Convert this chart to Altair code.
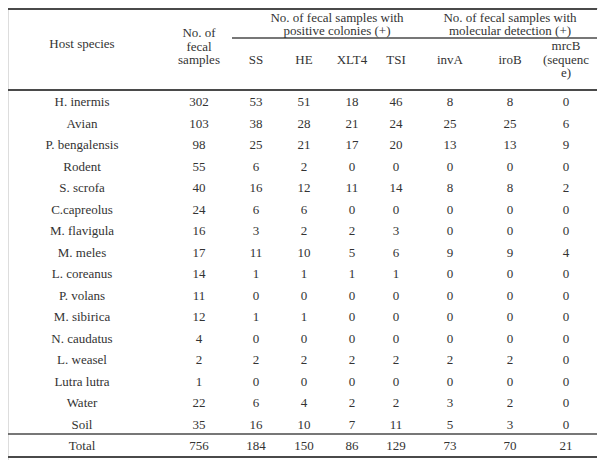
import altair as alt
import pandas as pd

hosts = ["H. inermis", "Avian", "P. bengalensis", "Rodent", "S. scrofa", "C.capreolus",
         "M. flavigula", "M. meles", "L. coreanus", "P. volans", "M. sibirica", "N. caudatus",
         "L. weasel", "Lutra lutra", "Water", "Soil", "Total"]
n_samples = [302, 103, 98, 55, 40, 24, 16, 17, 14, 11, 12, 4, 2, 1, 22, 35, 756]
ss = [53, 38, 25, 6, 16, 6, 3, 11, 1, 0, 1, 0, 2, 0, 6, 16, 184]
he = [51, 28, 21, 2, 12, 6, 2, 10, 1, 0, 1, 0, 2, 0, 4, 10, 150]
xlt4 = [18, 21, 17, 0, 11, 0, 2, 5, 1, 0, 0, 0, 2, 0, 2, 7, 86]
tsi = [46, 24, 20, 0, 14, 0, 3, 6, 1, 0, 0, 0, 2, 0, 2, 11, 129]
inva = [8, 25, 13, 0, 8, 0, 0, 9, 0, 0, 0, 0, 2, 0, 3, 5, 73]
irob = [8, 25, 13, 0, 8, 0, 0, 9, 0, 0, 0, 0, 2, 0, 2, 3, 70]
mrcb = [0, 6, 9, 0, 2, 0, 0, 4, 0, 0, 0, 0, 0, 0, 0, 0, 21]

col_headers = ["Host species", "No. of\nfecal\nsamples", "SS", "HE", "XLT4", "TSI",
               "invA", "iroB", "mrcB\n(sequenc\ne)"]
group_headers = ["No. of fecal samples with\npositive colonies (+)",
                 "No. of fecal samples with\nmolecular detection (+)"]

series = [hosts, n_samples, ss, he, xlt4, tsi, inva, irob, mrcb]

FONT = "Liberation Serif, Times New Roman, serif"
FS = 13
TXT = "#333333"
LINE = "#4a4a4a"

# column centres (layout) and first-line positions of headers
COL_X = [74, 191, 248, 296, 344, 388, 442, 502, 558]
HDR_Y = [36, 25, 52, 52, 52, 52, 52, 52, 38]
GRP_X = [329, 502]

y_scale = alt.Scale(domain=hosts, range=[94, 438], padding=0)

layers = []

def rule(x1, x2, y, w, color=LINE):
    return alt.Chart(pd.DataFrame({"k": [0]})).mark_rule(color=color, strokeWidth=w).encode(
        x=alt.value(x1), x2=alt.value(x2), y=alt.value(y)
    )

layers += [
    rule(0, 589, 1, 2.2),
    rule(224, 589, 30, 1.3),
    rule(0, 589, 82, 2.2),
    rule(0, 589, 426, 1.3),
    rule(0, 589, 449, 2.2),
]

for vals, cx, head, hy in zip(series, COL_X, col_headers, HDR_Y):
    df = pd.DataFrame({"row": hosts, "text": [str(v) for v in vals]})
    layers.append(
        alt.Chart(df).mark_text(font=FONT, fontSize=FS, color=TXT, baseline="middle").encode(
            x=alt.value(cx),
            y=alt.Y("row:N", scale=y_scale, axis=None),
            text="text:N",
        )
    )
    layers.append(
        alt.Chart(pd.DataFrame({"text": [head]})).mark_text(
            font=FONT, fontSize=FS, color=TXT, baseline="middle", lineBreak="\n", lineHeight=13.5
        ).encode(x=alt.value(cx), y=alt.value(hy), text="text:N")
    )

for gx, g in zip(GRP_X, group_headers):
    layers.append(
        alt.Chart(pd.DataFrame({"text": [g]})).mark_text(
            font=FONT, fontSize=FS, color=TXT, baseline="middle", lineBreak="\n", lineHeight=13
        ).encode(x=alt.value(gx), y=alt.value(9.5), text="text:N")
    )

chart = alt.layer(*layers).properties(
    width=590, height=452, padding=0, autosize=alt.AutoSizeParams(type="none")
).configure_view(stroke=None).configure(background="white")

chart.save("out.html", embed_options={"renderer": "svg", "actions": False})
